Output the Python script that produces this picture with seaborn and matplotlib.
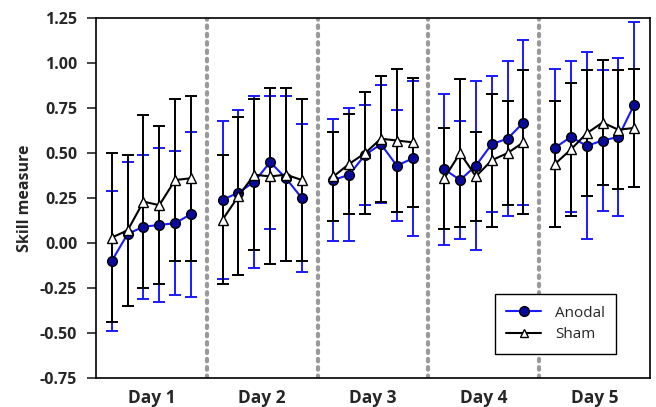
import numpy as np
import pandas as pd
import seaborn as sns
import matplotlib.pyplot as plt

days = ['Day 1', 'Day 2', 'Day 3', 'Day 4', 'Day 5']
blocks = [1, 2, 3, 4, 5, 6]

# values, one row per day
anodal_mean = [[-0.10, 0.05, 0.09, 0.10, 0.11, 0.16],
               [0.24, 0.28, 0.34, 0.45, 0.36, 0.25],
               [0.35, 0.38, 0.49, 0.55, 0.43, 0.47],
               [0.41, 0.35, 0.43, 0.55, 0.58, 0.67],
               [0.53, 0.59, 0.54, 0.57, 0.59, 0.77]]
anodal_sd = [[0.39, 0.40, 0.40, 0.43, 0.40, 0.46],
             [0.44, 0.46, 0.48, 0.37, 0.46, 0.41],
             [0.34, 0.37, 0.28, 0.33, 0.31, 0.43],
             [0.42, 0.33, 0.47, 0.38, 0.43, 0.46],
             [0.44, 0.42, 0.52, 0.39, 0.44, 0.46]]
sham_mean = [[0.03, 0.07, 0.23, 0.21, 0.35, 0.36],
             [0.13, 0.26, 0.38, 0.37, 0.38, 0.35],
             [0.37, 0.44, 0.50, 0.58, 0.57, 0.56],
             [0.36, 0.50, 0.37, 0.46, 0.50, 0.56],
             [0.44, 0.52, 0.61, 0.67, 0.63, 0.64]]
sham_sd = [[0.47, 0.42, 0.48, 0.44, 0.45, 0.46],
           [0.36, 0.44, 0.42, 0.49, 0.48, 0.45],
           [0.25, 0.28, 0.34, 0.35, 0.40, 0.36],
           [0.28, 0.41, 0.25, 0.37, 0.29, 0.40],
           [0.35, 0.37, 0.35, 0.35, 0.33, 0.33]]

# long-form table
rows = []
for d in range(len(days)):
    for b in range(len(blocks)):
        x = d + blocks[b] / 7
        rows.append([x, d, 'Anodal', anodal_mean[d][b], anodal_sd[d][b]])
        rows.append([x, d, 'Sham', sham_mean[d][b], sham_sd[d][b]])
df = pd.DataFrame(rows, columns=['x', 'day', 'Group', 'score', 'sd'])

sns.set_style('ticks')
plt.rcParams['font.family'] = ['Open Sans', 'DejaVu Sans']

fig = plt.figure(figsize=(6.56, 4.07), dpi=100)
ax = fig.add_axes([0.1463, 0.072, 0.8446, 0.883])

line_col = {'Anodal': '#1a1aff', 'Sham': 'black'}
face_col = {'Anodal': '#0a0a9a', 'Sham': 'white'}
mk = {'Anodal': 'o', 'Sham': '^'}

# day separators
for d in range(1, len(days)):
    ax.axvline(d, color='#9a9a9a', ls=(0, (0.6, 1.4)), lw=3.0,
               dash_capstyle='round', zorder=1)

for g in ['Anodal', 'Sham']:
    sub = df[df.Group == g]
    ax.errorbar(sub.x, sub.score, yerr=sub.sd, fmt='none',
                ecolor=line_col[g], elinewidth=1.4, capsize=4.5,
                capthick=1.4, zorder=2 if g == 'Anodal' else 3)

sns.lineplot(data=df, x='x', y='score', hue='Group', style='Group',
             units='day', estimator=None, sort=True,
             palette=line_col, markers=mk, dashes=False,
             lw=1.5, ax=ax, legend=False, zorder=4)

# marker faces
for ln in ax.lines:
    if ln.get_marker() == 'o':
        ln.set_markerfacecolor(face_col['Anodal'])
        ln.set_markeredgecolor('black')
        ln.set_markersize(7)
        ln.set_markeredgewidth(1.0)
    elif ln.get_marker() == '^':
        ln.set_markerfacecolor('white')
        ln.set_markeredgecolor('black')
        ln.set_markersize(7.5)
        ln.set_markeredgewidth(1.0)

ticks = np.arange(-0.75, 1.26, 0.25)
ax.set_xlim(0, 5)
ax.set_ylim(-0.75, 1.25)
ax.set_yticks(ticks)
ax.set_yticklabels(['%.2f' % v for v in ticks], fontsize=11.5, fontweight='bold')
ax.set_xticks(np.arange(len(days)) + 0.5)
ax.set_xticklabels(days, fontsize=12.5, fontweight='bold')
ax.tick_params(axis='x', length=0, pad=8)
ax.tick_params(axis='y', length=6.5, width=1.2, direction='out', pad=7)
ax.set_xlabel('')
ax.set_ylabel('Skill measure', fontsize=11.5, fontweight='bold', labelpad=5)
for s in ax.spines.values():
    s.set_color('black')
    s.set_linewidth(1.2)

# legend
h1 = plt.Line2D([], [], color=line_col['Anodal'], marker='o', lw=1.5,
                mfc=face_col['Anodal'], mec='black', ms=7)
h2 = plt.Line2D([], [], color='black', marker='^', lw=1.5,
                mfc='white', mec='black', ms=6)
leg = ax.legend([h1, h2], ['Anodal', 'Sham'], loc='lower right',
                bbox_to_anchor=(0.953, 0.045), fontsize=11, fancybox=False,
                framealpha=1, edgecolor='black', handlelength=2.3,
                borderpad=0.75, labelspacing=0.45, handletextpad=0.9)
leg.get_frame().set_linewidth(1.0)

fig.savefig('out.png', dpi=100)
